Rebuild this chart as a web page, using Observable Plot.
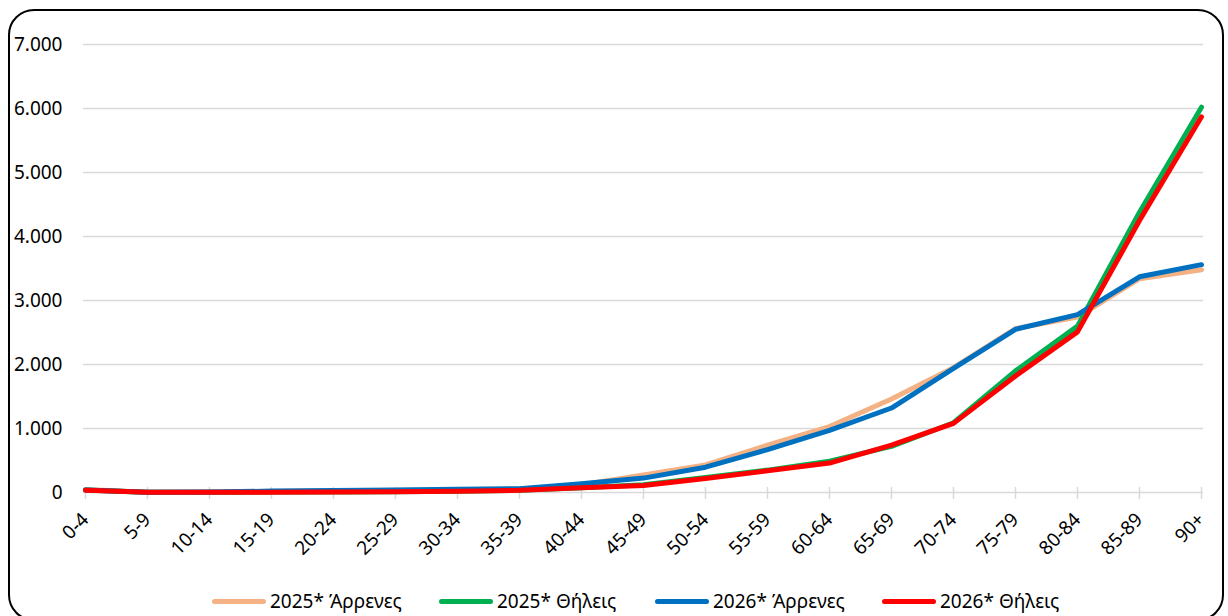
<!DOCTYPE html>
<html>
<head>
<meta charset="utf-8">
<script src="https://cdn.jsdelivr.net/npm/d3@7"></script>
<script src="https://cdn.jsdelivr.net/npm/@observablehq/plot@0.6"></script>
<style>
  html, body { margin: 0; padding: 0; background: #fff; }
  #wrap { position: relative; width: 1228px; height: 616px; overflow: hidden; font-family: "Noto Sans", sans-serif; }
  #frame { position: absolute; left: 8px; top: 9px; width: 1216px; height: 612px; border: 2px solid #000; border-radius: 26px; box-sizing: border-box; }
  #chart { position: absolute; left: 0; top: 0; }
  #legend { position: absolute; left: 0; top: 588px; width: 1228px; height: 26px; }
  .item { position: absolute; top: 0; display: flex; align-items: center; height: 26px; font-size: 19px; color: #000; white-space: nowrap; }
  .sw { width: 54px; height: 5px; border-radius: 3px; margin-right: 4px; }
</style>
</head>
<body>
<div id="wrap">
  <div id="frame"></div>
  <div id="chart"></div>
  <div id="legend"></div>
</div>
<script>
const ages = ["0-4","5-9","10-14","15-19","20-24","25-29","30-34","35-39","40-44","45-49","50-54","55-59","60-64","65-69","70-74","75-79","80-84","85-89","90+"];
const m2025 = [45, 5, 5, 15, 25, 35, 40, 55, 120, 275, 430, 740, 1030, 1460, 1950, 2560, 2740, 3340, 3480];
const f2025 = [40, 4, 3, 6, 8, 12, 20, 35, 75, 120, 235, 350, 490, 720, 1090, 1900, 2600, 4380, 6020];
const m2026 = [40, 4, 6, 22, 30, 40, 50, 60, 135, 225, 395, 670, 970, 1320, 1940, 2550, 2780, 3370, 3560];
const f2026 = [35, 3, 2, 5, 8, 12, 20, 35, 75, 110, 220, 340, 460, 740, 1080, 1820, 2510, 4250, 5870];
const seriesNames = ["2025* Άρρενες", "2025* Θήλεις", "2026* Άρρενες", "2026* Θήλεις"];
const seriesColors = ["#F4B183", "#00B050", "#0070C0", "#FF0000"];
const yTicks = [0, 1000, 2000, 3000, 4000, 5000, 6000, 7000];

const allSeries = [m2025, f2025, m2026, f2026];
const rows = [];
allSeries.forEach((vals, si) => vals.forEach((v, i) => rows.push({age: ages[i], value: v, series: seriesNames[si]})));

const fmt = d => d3.format(",")(d).replace(/,/g, ".");

const chart = Plot.plot({
  width: 1228,
  height: 562,
  marginLeft: 83,
  marginRight: 25,
  marginTop: 44,
  marginBottom: 70,
  style: {fontFamily: "Noto Sans, sans-serif", fontSize: "19px", color: "#000", background: "transparent"},
  x: {type: "point", domain: ages, padding: 0, label: null},
  y: {domain: [0, 7000], label: null},
  marks: [
    Plot.gridY(yTicks.filter(d => d > 0), {stroke: "#d9d9d9", strokeOpacity: 1, strokeWidth: 1.5}),
    Plot.ruleY([0], {stroke: "#d9d9d9", strokeWidth: 1.5}),
    Plot.ruleX(ages, {x: d => d, y1: 0, y2: 0, insetTop: -5, insetBottom: -7, stroke: "#d9d9d9", strokeWidth: 1.5}),
    Plot.axisX({tickSize: 0, tickRotate: -45, tickPadding: 24, fill: "#000", fontSize: 19, label: null}),
    Plot.axisY({ticks: yTicks, tickSize: 0, tickPadding: 21, tickFormat: fmt, fill: "#000", fontSize: 19, label: null}),
    ...seriesNames.map((name, si) => Plot.lineY(rows.filter(r => r.series === name), {
      x: "age", y: "value", stroke: seriesColors[si], strokeWidth: 5, strokeLinejoin: "round", strokeLinecap: "round"
    }))
  ]
});
document.getElementById("chart").appendChild(chart);

const legend = document.getElementById("legend");
const lefts = [212, 439, 655, 882];
seriesNames.forEach((name, i) => {
  const it = document.createElement("div");
  it.className = "item";
  it.style.left = lefts[i] + "px";
  const sw = document.createElement("div");
  sw.className = "sw";
  sw.style.background = seriesColors[i];
  const tx = document.createElement("span");
  tx.textContent = name;
  it.appendChild(sw); it.appendChild(tx);
  legend.appendChild(it);
});
</script>
</body>
</html>
